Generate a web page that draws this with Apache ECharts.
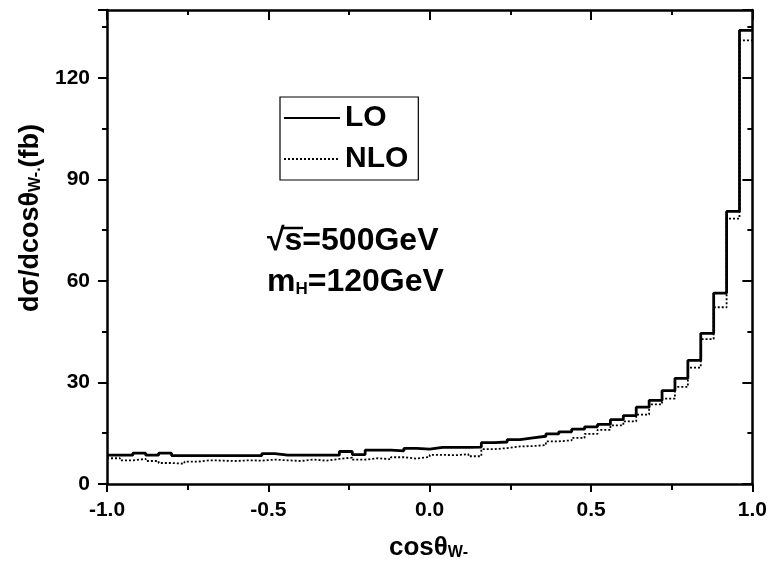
<!DOCTYPE html>
<html>
<head>
<meta charset="utf-8">
<script src="https://cdn.jsdelivr.net/npm/echarts@6/dist/echarts.min.js"></script>
<style>
html,body{margin:0;padding:0;background:#fff;}
#chart{width:770px;height:569px;}
</style>
</head>
<body>
<div id="chart"></div>
<script>
// histogram bins: 50 bins of width 0.04 over [-1, 1]
var binStart = -1.0
var binWidth = 0.04

var loValues = [
	8.5, 8.5, 9.1, 8.5, 9.1, 8.4, 8.4, 8.4, 8.4, 8.4,
	8.4, 8.4, 9.0, 8.5, 8.5, 8.5, 8.5, 8.5, 9.6, 8.7,
	10.0, 10.0, 9.8, 10.5, 10.3, 10.8, 10.8, 10.8, 10.9, 12.2,
	12.4, 13.1, 13.6, 14.1, 14.8, 15.4, 16.2, 16.9, 17.6, 19.0,
	20.2, 22.7, 24.7, 27.6, 31.2, 36.5, 44.5, 56.4, 80.5, 134.0
]
var nloValues = [
	7.6, 7.0, 7.4, 6.8, 6.2, 6.0, 6.6, 7.0, 6.9, 6.8,
	7.0, 6.9, 7.2, 7.0, 6.8, 7.2, 6.9, 7.4, 7.8, 7.2,
	7.6, 7.3, 7.9, 7.5, 8.0, 8.6, 8.5, 8.8, 8.2, 10.3,
	10.6, 11.1, 11.2, 11.5, 12.6, 12.9, 13.6, 14.8, 16.0, 17.3,
	18.5, 20.5, 23.5, 25.2, 28.7, 34.4, 42.8, 52.2, 78.4, 131.0
]
var xTicks = ['-1.0', '-0.5', '0.0', '0.5', '1.0']

function stepData(values){
	var out = []
	for (var i = 0; i < values.length; i++) {
		out.push([+(binStart + i * binWidth).toFixed(2), values[i]])
	}
	// close the last bin at its right edge
	out.push([+(binStart + values.length * binWidth).toFixed(2), values[values.length - 1]])
	return out
}

var font = 'Liberation Sans'
var myChart = echarts.init(document.getElementById('chart'))

var option = {
	backgroundColor: '#fff',
	animation: false,
	textStyle: {fontFamily: font},
	grid: {left: 107, right: 15, top: 10, bottom: 85},
	legend: {
		left: 280,
		top: 97,
		orient: 'vertical',
		itemWidth: 56,
		itemHeight: 16,
		itemGap: 11,
		padding: [6, 10, 6, 3],
		borderColor: '#000',
		borderWidth: 1.2,
		itemStyle: {opacity: 0},
		textStyle: {fontFamily: font, fontWeight: 'bold', fontSize: 30, color: '#000'},
		data: ['LO', 'NLO']
	},
	xAxis: [
		{
			type: 'value',
			min: -1, max: 1, interval: 0.5,
			position: 'bottom',
			axisLine: {onZero: false, lineStyle: {color: '#000', width: 2.5}},
			axisTick: {length: 8, lineStyle: {width: 2, color: '#000'}},
			minorTick: {show: true, splitNumber: 2, length: 6, lineStyle: {width: 2, color: '#000'}},
			splitLine: {show: false},
			axisLabel: {
				fontFamily: font, fontWeight: 'bold', fontSize: 21, color: '#000', margin: 16,
				formatter: function (v) { return xTicks[Math.round((v + 1) / 0.5)] }
			}
		},
		{
			type: 'value',
			min: -1, max: 1, interval: 0.5,
			position: 'top',
			axisLine: {onZero: false, lineStyle: {color: '#000', width: 2.5}},
			axisTick: {inside: true, length: 10, lineStyle: {width: 2, color: '#000'}},
			minorTick: {show: true, splitNumber: 2, length: 5, lineStyle: {width: 2, color: '#000'}},
			splitLine: {show: false},
			axisLabel: {show: false}
		}
	],
	yAxis: [
		{
			type: 'value',
			min: 0, max: 140, interval: 30,
			position: 'left',
			axisLine: {show: true, onZero: false, lineStyle: {color: '#000', width: 2.5}},
			axisTick: {show: true, length: 9, lineStyle: {width: 2, color: '#000'}},
			minorTick: {show: true, splitNumber: 2, length: 5, lineStyle: {width: 2, color: '#000'}},
			splitLine: {show: false},
			axisLabel: {
				fontFamily: font, fontWeight: 'bold', fontSize: 21, color: '#000', margin: 17,
				showMaxLabel: false
			}
		},
		{
			type: 'value',
			min: 0, max: 140, interval: 30,
			position: 'right',
			axisLine: {show: true, onZero: false, lineStyle: {color: '#000', width: 2.5}},
			axisTick: {show: true, inside: true, length: 10, lineStyle: {width: 2, color: '#000'}},
			minorTick: {show: true, splitNumber: 2, length: 5, lineStyle: {width: 2, color: '#000'}},
			splitLine: {show: false},
			axisLabel: {show: false}
		}
	],
	graphic: [
		{
			type: 'text',
			left: 389, top: 535,
			style: {
				text: '{m|cosθ}{s|W-}',
				fill: '#000',
				rich: {
					m: {fontFamily: font, fontWeight: 'bold', fontSize: 26, fill: '#000', verticalAlign: 'bottom', lineHeight: 32},
					s: {fontFamily: font, fontWeight: 'bold', fontSize: 16, fill: '#000', verticalAlign: 'bottom', lineHeight: 20}
				}
			}
		},
		{
			type: 'text',
			x: 26, y: 218,
			rotation: Math.PI / 2,
			style: {
				text: '{m|dσ/dcosθ}{s|W-.}{m|(fb)}',
				align: 'center',
				verticalAlign: 'middle',
				fill: '#000',
				rich: {
					m: {fontFamily: font, fontWeight: 'bold', fontSize: 27, fill: '#000', verticalAlign: 'bottom', lineHeight: 36},
					s: {fontFamily: font, fontWeight: 'bold', fontSize: 16, fill: '#000', verticalAlign: 'bottom', lineHeight: 25}
				}
			}
		},
		{
			type: 'text',
			left: 267, top: 225,
			style: {
				text: '√s=500GeV',
				fontFamily: font, fontWeight: 'bold', fontSize: 32, fill: '#000'
			}
		},
		{
			type: 'line',
			shape: {x1: 283, y1: 228, x2: 303, y2: 228},
			style: {stroke: '#000', lineWidth: 2.5}
		},
		{
			type: 'text',
			left: 267, top: 266,
			style: {
				text: '{m|m}{s|H}{m|=120GeV}',
				fill: '#000',
				rich: {
					m: {fontFamily: font, fontWeight: 'bold', fontSize: 32, fill: '#000', verticalAlign: 'bottom', lineHeight: 40},
					s: {fontFamily: font, fontWeight: 'bold', fontSize: 17, fill: '#000', verticalAlign: 'bottom', lineHeight: 30}
				}
			}
		}
	],
	series: [
		{
			name: 'LO',
			type: 'line',
			step: 'end',
			symbol: 'none',
			xAxisIndex: 0, yAxisIndex: 0,
			lineStyle: {color: '#000', width: 2.8, type: 'solid'},
			itemStyle: {color: '#000'},
			data: stepData(loValues)
		},
		{
			name: 'NLO',
			type: 'line',
			step: 'end',
			symbol: 'none',
			xAxisIndex: 0, yAxisIndex: 0,
			lineStyle: {color: '#000', width: 1.8, type: [2, 2]},
			itemStyle: {color: '#000'},
			data: stepData(nloValues)
		}
	]
}

myChart.setOption(option)
</script>
</body>
</html>
